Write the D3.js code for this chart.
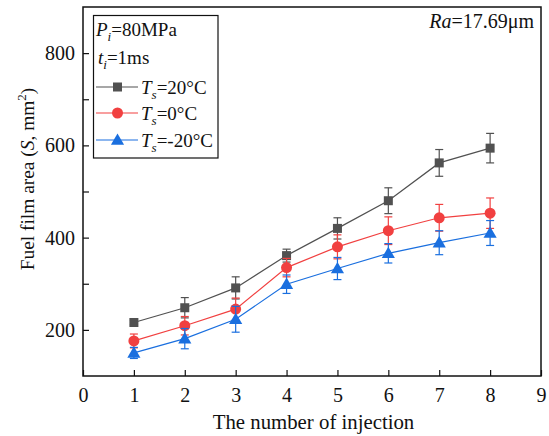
<!DOCTYPE html>
<html><head><meta charset="utf-8">
<script src="https://cdn.jsdelivr.net/npm/d3@7"></script>
<style>body{margin:0;background:#fff}svg{display:block}</style>
</head><body><svg id="c" width="549" height="436" font-family="Liberation Serif"></svg>
<script>
const injections = [1,2,3,4,5,6,7,8];
const s20 = [216,248,291,361,420,480,562,594];
const e20 = [5,22,24,14,23,28,29,32];
const s0 = [176,209,245,335,380,415,443,453];
const e0 = [15,20,24,20,26,30,29,33];
const sm20 = [150,181,223,299,333,366,389,410];
const em20 = [12,22,28,20,24,21,26,27];
const xTicks = [0,1,2,3,4,5,6,7,8,9];
const yTicks = [200,300,400,500,600,700,800];
const yLabels = [200,400,600,800];

const series = [
  {name:"20°C", vals:s20, err:e20, color:"#515151", shape:"square"},
  {name:"0°C", vals:s0, err:e0, color:"#F14040", shape:"circle"},
  {name:"-20°C", vals:sm20, err:em20, color:"#1A6FDF", shape:"triangle"}
];

const svg = d3.select("#c");
const FF = "Liberation Serif";
const L=83,R=541,T=7,B=376;
const x = d3.scaleLinear().domain([0,9]).range([L,R]);
const y = d3.scaleLinear().domain([100,900]).range([B,T]);

function marker(g, shape, cx, cy, color){
  if(shape==="square") g.append("rect").attr("x",cx-4.5).attr("y",cy-4.5).attr("width",9).attr("height",9).attr("fill",color);
  else if(shape==="circle") g.append("circle").attr("cx",cx).attr("cy",cy).attr("r",5.5).attr("fill",color);
  else g.append("path").attr("d",d3.symbol(d3.symbolTriangle,75)()).attr("transform",`translate(${cx},${cy+1})`).attr("fill",color);
}

series.forEach(s=>{
  const g = svg.append("g");
  const line = d3.line().x((d,i)=>x(injections[i])).y(d=>y(d));
  g.append("path").attr("d",line(s.vals)).attr("fill","none").attr("stroke",s.color).attr("stroke-width",1.2);
  s.vals.forEach((v,i)=>{
    const cx=x(injections[i]);
    const y1=y(v+s.err[i]), y2=y(v-s.err[i]);
    g.append("line").attr("x1",cx).attr("x2",cx).attr("y1",y1).attr("y2",y2).attr("stroke",s.color).attr("stroke-width",1.2);
    [y1,y2].forEach(yy=>g.append("line").attr("x1",cx-4).attr("x2",cx+4).attr("y1",yy).attr("y2",yy).attr("stroke",s.color).attr("stroke-width",1.2));
  });
  s.vals.forEach((v,i)=>marker(g,s.shape,x(injections[i]),y(v),s.color));
});

svg.append("rect").attr("x",L).attr("y",T).attr("width",R-L).attr("height",B-T).attr("fill","none").attr("stroke","#111").attr("stroke-width",1.5);

const xAxis = d3.axisBottom(x).tickValues(xTicks).tickSize(-6).tickPadding(12).tickFormat(d3.format("d"));
const gx = svg.append("g").attr("transform",`translate(0,${B})`).call(xAxis);
gx.attr("font-family",FF).attr("font-size",20);
gx.select(".domain").remove();
gx.selectAll(".tick line").attr("stroke","#111").attr("stroke-width",1.2);
gx.selectAll(".tick text").attr("fill","#111");

const yAxis = d3.axisLeft(y).tickValues(yTicks).tickSize(-6).tickPadding(8).tickFormat(d=>yLabels.includes(d)?d:"");
const gy = svg.append("g").attr("transform",`translate(${L},0)`).call(yAxis);
gy.attr("font-family",FF).attr("font-size",20);
gy.select(".domain").remove();
gy.selectAll(".tick line").attr("stroke","#111").attr("stroke-width",1.2);
gy.selectAll(".tick text").attr("fill","#111");

svg.append("text").attr("x",(L+R)/2+1.5).attr("y",429).attr("text-anchor","middle").attr("font-size",20.8).attr("fill","#111").text("The number of injection");
const yt = svg.append("text").attr("transform","translate(34,179) rotate(-90)").attr("text-anchor","middle").attr("font-size",19.4).attr("fill","#111");
yt.append("tspan").text("Fuel film area (");
yt.append("tspan").attr("font-style","italic").text("S");
yt.append("tspan").text(", mm");
yt.append("tspan").attr("font-size",13).attr("dy",-8).text("2");
yt.append("tspan").attr("dy",8).text(")");

const ra = svg.append("text").attr("x",534).attr("y",28).attr("text-anchor","end").attr("font-size",20).attr("fill","#111");
ra.append("tspan").attr("font-style","italic").text("Ra");
ra.append("tspan").text("=17.69μm");

const lg = svg.append("g");
lg.append("rect").attr("x",93.5).attr("y",15.5).attr("width",124.5).attr("height",142.5).attr("fill","#fff").attr("stroke","#111").attr("stroke-width",1.2);
function subText(xp, yp, main, sub, rest){
  const t = lg.append("text").attr("x",xp).attr("y",yp).attr("font-size",19).attr("fill","#111");
  t.append("tspan").attr("font-style","italic").text(main);
  t.append("tspan").attr("font-style","italic").attr("font-size",13).attr("dy",5).text(sub);
  t.append("tspan").attr("dy",-5).text(rest);
}
subText(96,36,"P","i","=80MPa");
subText(98,64,"t","i","=1ms");
const rowY=[87,113,140];
series.forEach((s,i)=>{
  lg.append("line").attr("x1",96).attr("x2",138).attr("y1",rowY[i]).attr("y2",rowY[i]).attr("stroke",s.color).attr("stroke-width",1.2);
  marker(lg,s.shape,117.5,rowY[i],s.color);
  subText(141,rowY[i]+7,"T","s","="+s.name);
});
</script></body></html>
